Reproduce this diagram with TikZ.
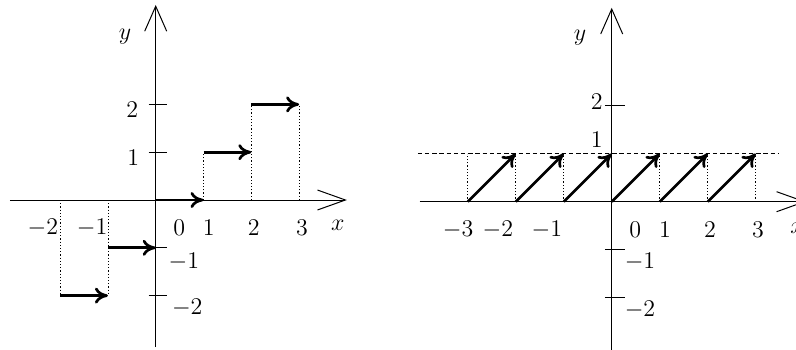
\documentclass[tikz,border=0pt]{standalone}
\usetikzlibrary{arrows.meta}
\begin{document}
\begin{tikzpicture}[
  axisx/.style={line width=0.5pt, -{Straight Barb[length=14pt,width=10pt]}},
  axisy/.style={line width=0.5pt, -{Straight Barb[length=12.5pt,width=11pt]}},
  vec/.style={line width=1.35pt, -{To[length=6.5pt,width=8pt]}},
  dots/.style={line width=0.4pt, dash pattern=on 0.6pt off 1pt},
  dashln/.style={line width=0.45pt, dash pattern=on 2.2pt off 1.4pt},
  tck/.style={line width=0.5pt},
  lab/.style={inner sep=0pt, font=\fontsize{12}{14}\selectfont}
]
\useasboundingbox (0,0) rectangle (398pt,174.5pt);
% ---------------- left plot ----------------
\begin{scope}[shift={(77.85pt,74.5pt)}, x=23.9pt, y=23.9pt]
  \coordinate (Lxs) at (-3.05,0); \coordinate (Lxe) at (4.0,0);
  \coordinate (Lys) at (0,-3.08); \coordinate (Lye) at (0,4.08);
  \draw[axisx] (Lxs) -- (Lxe);
  \draw[axisy] (Lys) -- (Lye);
  \foreach \t in {2,1,-1,-2} \draw[tck] (-0.15,\t) -- (0.23,\t);
  % dotted guides
  \draw[dots] (1,0) -- (1,1);
  \draw[dots] (2,0) -- (2,2);
  \draw[dots] (3,0) -- (3,2);
  \draw[dots] (-1,0) -- (-1,-2);
  \draw[dots] (-2,0) -- (-2,-2);
  % step vectors
  \foreach \n in {-2,-1,0,1,2} {
    \coordinate (La\n) at (\n,\n);
    \pgfmathtruncatemacro{\m}{\n+1}
    \coordinate (Lb\n) at (\m,\n);
    \draw[vec] (La\n) -- (Lb\n);
  }
  % labels
  \node[lab] (Ly) at (-0.64,3.41) {$y$};
  \node[lab] (Lx) at (3.81,-0.54) {$x$};
  \node[lab] (Ly2) at (-0.49,1.88) {$2$};
  \node[lab] (Ly1) at (-0.47,0.88) {$1$};
  \node[lab] (Lym1) at (0.59,-1.30) {$-1$};
  \node[lab] (Lym2) at (0.66,-2.26) {$-2$};
  \node[lab] (Lxm2) at (-2.36,-0.59) {$-2$};
  \node[lab] (Lxm1) at (-1.33,-0.59) {$-1$};
  \node[lab] (Lx0) at (0.49,-0.59) {$0$};
  \node[lab] (Lx1) at (1.11,-0.59) {$1$};
  \node[lab] (Lx2) at (2.05,-0.59) {$2$};
  \node[lab] (Lx3) at (3.06,-0.59) {$3$};
\end{scope}
% ---------------- right plot ----------------
\begin{scope}[shift={(305.85pt,73.65pt)}, x=24pt, y=24pt]
  \coordinate (Rxs) at (-4.0,0); \coordinate (Rxe) at (4.05,0);
  \coordinate (Rys) at (0,-3.2); \coordinate (Rye) at (0,4.04);
  \draw[axisx] (Rxs) -- (Rxe);
  \draw[axisy] (Rys) -- (Rye);
  \foreach \t in {2,-1,-2} \draw[tck] (-0.14,\t) -- (0.28,\t);
  \coordinate (Rds) at (-4.04,1); \coordinate (Rde) at (3.47,1);
  \draw[dashln] (Rds) -- (Rde);
  \foreach \k in {-3,-2,-1,1,2,3} \draw[dots] (\k,0) -- (\k,1);
  \foreach \n in {-3,-2,-1,0,1,2} {
    \coordinate (Ra\n) at (\n,0);
    \pgfmathtruncatemacro{\m}{\n+1}
    \coordinate (Rb\n) at (\m,1);
    \draw[vec] (Ra\n) -- (Rb\n);
  }
  \node[lab] (Ry) at (-0.66,3.41) {$y$};
  \node[lab] (Rx) at (3.86,-0.56) {$x$};
  \node[lab] (Ry2) at (-0.31,2.08) {$2$};
  \node[lab] (Ry1) at (-0.31,1.28) {$1$};
  \node[lab] (Rym1) at (0.59,-1.26) {$-1$};
  \node[lab] (Rym2) at (0.59,-2.26) {$-2$};
  \node[lab] (Rxm3) at (-3.2,-0.59) {$-3$};
  \node[lab] (Rxm2) at (-2.37,-0.59) {$-2$};
  \node[lab] (Rxm1) at (-1.35,-0.59) {$-1$};
  \node[lab] (Rx0) at (0.49,-0.59) {$0$};
  \node[lab] (Rx1) at (1.11,-0.59) {$1$};
  \node[lab] (Rx2) at (2.05,-0.59) {$2$};
  \node[lab] (Rx3) at (3.05,-0.59) {$3$};
\end{scope}
\end{tikzpicture}
\end{document}
